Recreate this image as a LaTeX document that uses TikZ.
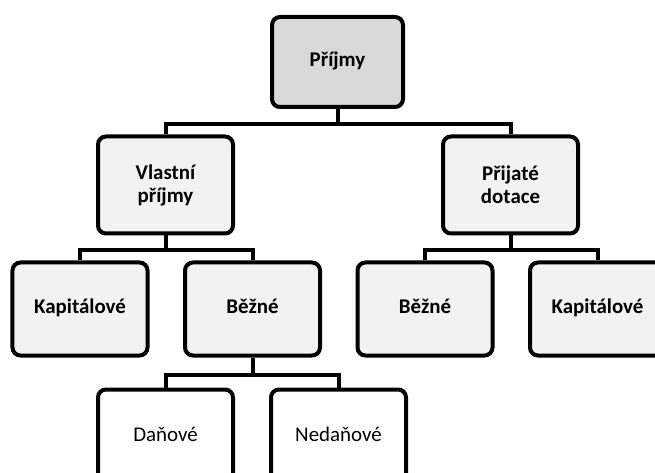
\documentclass[tikz,border=0pt]{standalone}
\usepackage{fontspec}
\setmainfont{Carlito}
\usepackage{tikz}

\tikzset{
  box/.style={draw, line width=4bp, rounded corners=8bp, fill=boxfill,
    minimum width=135bp, minimum height=93bp, align=center,
    font=\fontsize{21}{23}\selectfont\bfseries, inner sep=2bp},
  onerow/.style={text height=14bp, text depth=4bp},
  topbox/.style={box, onerow, fill=topfill, minimum width=131bp, minimum height=90bp},
  leafbox/.style={box, onerow, fill=white, font=\fontsize{21}{23}\selectfont},
  conn/.style={line width=4bp}
}
\definecolor{topfill}{HTML}{D9D9D9}
\definecolor{boxfill}{HTML}{F2F2F2}

\begin{document}
\begin{tikzpicture}[x=1bp,y=-1bp]
\path[use as bounding box, clip] (0,0) rectangle (655,473);
\node[topbox] (prijmy) at (337.5,62) {Příjmy};
\node[box, minimum height=97bp] (vlastni) at (165.5,185) {Vlastní\\příjmy};
\node[box, minimum height=97bp] (prijate) at (510.5,185) {Přijaté\\dotace};
\node[box, onerow] (kap1) at (80,309) {Kapitálové};
\node[box, onerow] (bez1) at (252.5,309) {Běžné};
\node[box, onerow] (bez2) at (425,309) {Běžné};
\node[box, onerow] (kap2) at (597.5,309) {Kapitálové};
\node[leafbox] (danove) at (165.5,436) {Daňové};
\node[leafbox] (nedanove) at (338.5,436) {Nedaňové};
\draw[conn] (prijmy.south) -- ++(0,15) -| (vlastni.north);
\draw[conn] (prijmy.south) -- ++(0,15) -| (prijate.north);
\draw[conn] (vlastni.south) -- ++(0,15) -| (kap1.north);
\draw[conn] (vlastni.south) -- ++(0,15) -| (bez1.north);
\draw[conn] (prijate.south) -- ++(0,15) -| (bez2.north);
\draw[conn] (prijate.south) -- ++(0,15) -| (kap2.north);
\draw[conn] (bez1.south) -- ++(0,17) -| (danove.north);
\draw[conn] (bez1.south) -- ++(0,17) -| (nedanove.north);
\end{tikzpicture}
\end{document}
